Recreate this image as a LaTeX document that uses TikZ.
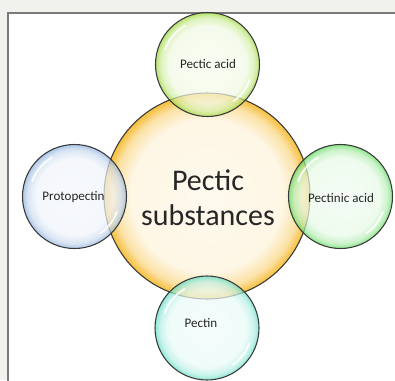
\documentclass[tikz,border=0pt]{standalone}
\usepackage{fontspec}
\setmainfont{Carlito}
\definecolor{pagegray}{HTML}{F1F1ED}
\definecolor{framegray}{HTML}{7A7A7A}
\definecolor{rimgray}{HTML}{3A3A3A}
\definecolor{acidgreen}{HTML}{9AD933}
\definecolor{protoblue}{HTML}{8DB0DE}
\definecolor{pectinicgreen}{HTML}{5EDB5E}
\definecolor{pectinteal}{HTML}{5FDDC6}
\definecolor{substyellow}{HTML}{F6BE3A}
\colorlet{bubcol}{white}
\pgfdeclareradialshading[bubcol]{bubble}{\pgfpoint{0bp}{0bp}}{%
  color(0bp)=(bubcol!9!white); color(18.5bp)=(bubcol!13!white);
  color(22.5bp)=(bubcol!45!white); color(25bp)=(bubcol); color(50bp)=(bubcol)}
\tikzset{
  bubble/.style={circle, draw=rimgray, line width=0.8pt, shading=bubble,
    /utils/exec={\colorlet{bubcol}{#1}}},
  small/.style={bubble=#1, minimum size=78pt, fill opacity=0.7, inner sep=0pt},
  gloss/.style={white, line width=1.4pt, line cap=round, opacity=0.85},
  lbl/.style={font=\fontsize{9.8}{11}\selectfont, text=black!85}
}
\begin{document}
\begin{tikzpicture}[x=0.75pt, y=0.75pt]
    \useasboundingbox (0,0) rectangle (395,380);
    % page and frame
    \fill[pagegray] (0,0) rectangle (395,380);
    \fill[white] (8,0) rectangle (395,367);
    \draw[framegray, line width=0.9pt] (8,-2) -- (8,367) -- (397,367);
    % centre bubble
    \node[bubble=substyellow, minimum size=154.5pt, inner sep=0pt] (subst) at (207,184) {};
    \node[align=center, font=\fontsize{22.5}{26}\selectfont, text=black!85] (substlbl) at (208,182) {Pectic\\substances};
    % outer bubbles
    \node[small=acidgreen] (acid) at (207.5,315.5) {};
    \node[small=protoblue] (proto) at (74.5,183.5) {};
    \node[small=pectinicgreen] (pectinic) at (340.5,183.5) {};
    \node[small=pectinteal] (pectin) at (207,52) {};
    % highlights
    \foreach \b in {acid, proto, pectinic, pectin} {
        \draw[gloss] (\b.center) ++(160:45) arc (160:120:45);
        \draw[gloss] (\b.center) ++(-20:45) arc (-20:-55:45);
    }
    \node[lbl] (acidlbl) at (208,316) {Pectic acid};
    \node[lbl] (protolbl) at (73.5,183) {Protopectin};
    \node[lbl] (pectiniclbl) at (341,182) {Pectinic acid};
    \node[lbl] (pectinlbl) at (201,57) {Pectin};
\end{tikzpicture}
\end{document}
